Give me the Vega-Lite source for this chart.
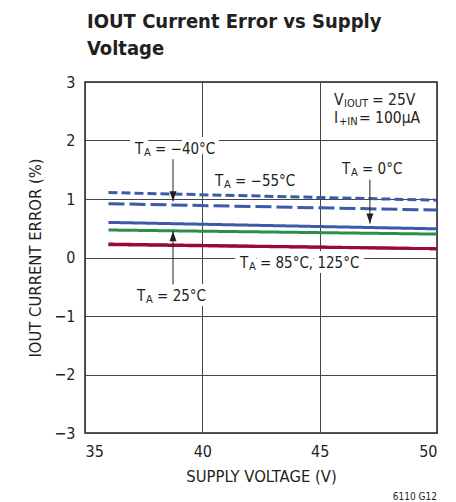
{
  "$schema": "https://vega.github.io/schema/vega-lite/v6.json",
  "autosize": "none",
  "width": 352,
  "height": 351,
  "padding": {"left": 85, "top": 82, "right": 19, "bottom": 69},
  "background": "white",
  "title": {
    "text": ["IOUT Current Error vs Supply", "Voltage"],
    "anchor": "start",
    "frame": "group",
    "font": "DejaVu Sans Condensed",
    "fontSize": 20,
    "fontWeight": "bold",
    "color": "#231f20",
    "lineHeight": 27,
    "offset": 15,
    "dx": 2
  },
  "config": {
    "view": {"stroke": "#231f20", "strokeWidth": 1.5},
    "font": "DejaVu Sans Condensed",
    "text": {"font": "DejaVu Sans Condensed", "color": "#231f20"},
    "axis": {
      "labelFont": "DejaVu Sans Condensed",
      "titleFont": "DejaVu Sans Condensed",
      "labelFontSize": 16,
      "titleFontSize": 16.5,
      "titleFontWeight": "normal",
      "labelColor": "#231f20",
      "titleColor": "#231f20",
      "ticks": false,
      "domain": false,
      "gridColor": "#444444",
      "gridWidth": 1,
      "gridOpacity": 1,
      "labelPadding": 10
    }
  },
  "datasets": {
    "curves": [
      {"V": 36, "err": 1.11, "series": "-55"},
      {"V": 50, "err": 0.98, "series": "-55"},
      {"V": 36, "err": 0.92, "series": "-40"},
      {"V": 50, "err": 0.81, "series": "-40"},
      {"V": 36, "err": 0.60, "series": "0"},
      {"V": 50, "err": 0.49, "series": "0"},
      {"V": 36, "err": 0.47, "series": "25"},
      {"V": 50, "err": 0.40, "series": "25"},
      {"V": 36, "err": 0.23, "series": "85"},
      {"V": 50, "err": 0.15, "series": "85"},
      {"V": 36, "err": 0.22, "series": "125"},
      {"V": 50, "err": 0.15, "series": "125"}
    ],
    "ta": [
      {"x": 37.13, "y": 1.86, "rest": "= −40°C"},
      {"x": 40.54, "y": 1.31, "rest": "= −55°C"},
      {"x": 45.95, "y": 1.52, "rest": "= 0°C"},
      {"x": 41.6, "y": -0.10, "rest": "= 85°C, 125°C"},
      {"x": 37.22, "y": -0.65, "rest": "= 25°C"}
    ],
    "arrows": [
      {"x": 38.75, "y1": 1.68, "y2": 0.96, "dir": "down"},
      {"x": 38.75, "y1": -0.46, "y2": 0.45, "dir": "up"},
      {"x": 47.14, "y1": 1.33, "y2": 0.58, "dir": "down"}
    ],
    "cond": [
      {"x": 45.61, "y": 2.69, "main": "V", "sub": "IOUT", "rest": "= 25V"},
      {"x": 45.61, "y": 2.38, "main": "I", "sub": "+IN", "rest": "= 100µA"}
    ],
    "note": [{"x": 50, "y": -3, "txt": "6110 G12"}]
  },
  "layer": [
    {
      "data": {"name": "ta"},
      "mark": {"type": "text", "text": "T", "align": "left", "baseline": "middle", "fontSize": 15, "stroke": "white", "strokeWidth": 10, "strokeJoin": "round", "fill": "white"},
      "encoding": {"x": {"field": "x", "type": "quantitative"}, "y": {"field": "y", "type": "quantitative"}}
    },
    {
      "data": {"name": "ta"},
      "mark": {"type": "text", "text": "A", "align": "left", "baseline": "middle", "fontSize": 11, "dx": 9, "dy": 4, "stroke": "white", "strokeWidth": 10, "strokeJoin": "round", "fill": "white"},
      "encoding": {"x": {"field": "x", "type": "quantitative"}, "y": {"field": "y", "type": "quantitative"}}
    },
    {
      "data": {"name": "ta"},
      "mark": {"type": "text", "align": "left", "baseline": "middle", "fontSize": 15, "dx": 20, "stroke": "white", "strokeWidth": 10, "strokeJoin": "round", "fill": "white"},
      "encoding": {"x": {"field": "x", "type": "quantitative"}, "y": {"field": "y", "type": "quantitative"}, "text": {"field": "rest"}}
    },
    {
      "data": {"name": "curves"},
      "mark": {"type": "line", "strokeWidth": 3, "clip": true},
      "encoding": {
        "x": {
          "field": "V", "type": "quantitative",
          "scale": {"domain": [35, 50], "nice": false, "zero": false},
          "axis": {"values": [35, 40, 45, 50], "format": "d", "title": "SUPPLY VOLTAGE (V)", "titlePadding": 9, "grid": true}
        },
        "y": {
          "field": "err", "type": "quantitative",
          "scale": {"domain": [-3, 3], "nice": false},
          "axis": {"values": [-3, -2, -1, 0, 1, 2, 3], "format": "d", "title": "IOUT CURRENT ERROR (%)", "titlePadding": 10, "grid": true}
        },
        "color": {
          "field": "series", "type": "nominal",
          "scale": {"domain": ["-55", "-40", "0", "25", "85", "125"], "range": ["#3d5aa8", "#3d5aa8", "#3d5aa8", "#2b8f4a", "#9a0b34", "#9a0b34"]},
          "legend": null
        },
        "strokeDash": {
          "field": "series", "type": "nominal",
          "scale": {"domain": ["-55", "-40", "0", "25", "85", "125"], "range": [[9, 4], [16, 5], [1, 0], [1, 0], [1, 0], [1, 0]]},
          "legend": null
        }
      }
    },
    {
      "data": {"name": "arrows"},
      "mark": {"type": "rule", "color": "#231f20", "strokeWidth": 1},
      "encoding": {
        "x": {"field": "x", "type": "quantitative"},
        "y": {"field": "y1", "type": "quantitative"},
        "y2": {"field": "y2"}
      }
    },
    {
      "data": {"name": "arrows"},
      "mark": {"type": "point", "filled": true, "size": 400, "color": "#231f20", "opacity": 1, "strokeWidth": 0},
      "encoding": {
        "x": {"field": "x", "type": "quantitative"},
        "y": {"field": "y2", "type": "quantitative"},
        "shape": {
          "field": "dir", "type": "nominal",
          "scale": {"domain": ["down", "up"], "range": ["M0,0L-0.35,-1L0.35,-1Z", "M0,0L-0.35,1L0.35,1Z"]},
          "legend": null
        }
      }
    },
    {
      "data": {"name": "ta"},
      "mark": {"type": "text", "text": "T", "align": "left", "baseline": "middle", "fontSize": 15},
      "encoding": {"x": {"field": "x", "type": "quantitative"}, "y": {"field": "y", "type": "quantitative"}}
    },
    {
      "data": {"name": "ta"},
      "mark": {"type": "text", "text": "A", "align": "left", "baseline": "middle", "fontSize": 11, "dx": 9, "dy": 4},
      "encoding": {"x": {"field": "x", "type": "quantitative"}, "y": {"field": "y", "type": "quantitative"}}
    },
    {
      "data": {"name": "ta"},
      "mark": {"type": "text", "align": "left", "baseline": "middle", "fontSize": 15, "dx": 20},
      "encoding": {"x": {"field": "x", "type": "quantitative"}, "y": {"field": "y", "type": "quantitative"}, "text": {"field": "rest"}}
    },
    {
      "data": {"name": "cond"},
      "mark": {"type": "text", "align": "left", "baseline": "middle", "fontSize": 15.5},
      "encoding": {"x": {"field": "x", "type": "quantitative"}, "y": {"field": "y", "type": "quantitative"}, "text": {"field": "main"}}
    },
    {
      "data": {"name": "cond"},
      "transform": [{"filter": "datum.main == 'V'"}],
      "mark": {"type": "text", "align": "left", "baseline": "middle", "fontSize": 11, "dx": 10, "dy": 4},
      "encoding": {"x": {"field": "x", "type": "quantitative"}, "y": {"field": "y", "type": "quantitative"}, "text": {"field": "sub"}}
    },
    {
      "data": {"name": "cond"},
      "transform": [{"filter": "datum.main == 'V'"}],
      "mark": {"type": "text", "align": "left", "baseline": "middle", "fontSize": 15.5, "dx": 38},
      "encoding": {"x": {"field": "x", "type": "quantitative"}, "y": {"field": "y", "type": "quantitative"}, "text": {"field": "rest"}}
    },
    {
      "data": {"name": "cond"},
      "transform": [{"filter": "datum.main == 'I'"}],
      "mark": {"type": "text", "align": "left", "baseline": "middle", "fontSize": 11, "dx": 5, "dy": 4},
      "encoding": {"x": {"field": "x", "type": "quantitative"}, "y": {"field": "y", "type": "quantitative"}, "text": {"field": "sub"}}
    },
    {
      "data": {"name": "cond"},
      "transform": [{"filter": "datum.main == 'I'"}],
      "mark": {"type": "text", "align": "left", "baseline": "middle", "fontSize": 15.5, "dx": 25},
      "encoding": {"x": {"field": "x", "type": "quantitative"}, "y": {"field": "y", "type": "quantitative"}, "text": {"field": "rest"}}
    },
    {
      "data": {"name": "note"},
      "mark": {"type": "text", "align": "right", "baseline": "middle", "fontSize": 10, "dy": 64},
      "encoding": {"x": {"field": "x", "type": "quantitative"}, "y": {"field": "y", "type": "quantitative"}, "text": {"field": "txt"}}
    }
  ]
}
